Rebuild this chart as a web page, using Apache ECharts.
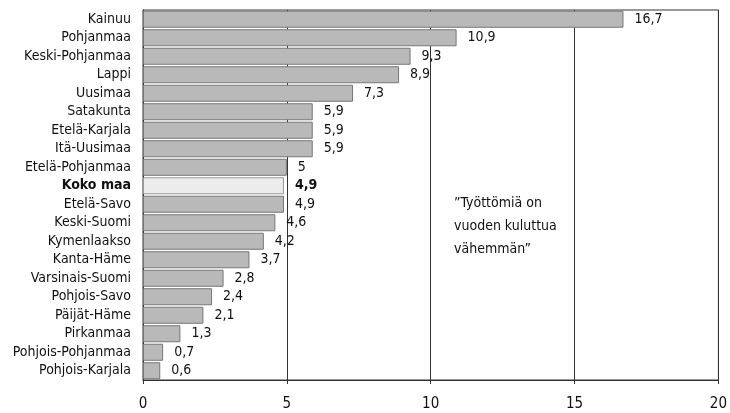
<!DOCTYPE html>
<html>
<head>
<meta charset="utf-8">
<script src="https://cdn.jsdelivr.net/npm/echarts@6/dist/echarts.min.js"></script>
<style>
  html, body { margin: 0; padding: 0; background: #fff; }
  #chart { width: 730px; height: 413px; }
</style>
</head>
<body>
<div id="chart"></div>
<script>
const regions = ['Kainuu', 'Pohjanmaa', 'Keski-Pohjanmaa', 'Lappi', 'Uusimaa', 'Satakunta',
  'Etelä-Karjala', 'Itä-Uusimaa', 'Etelä-Pohjanmaa', 'Koko maa', 'Etelä-Savo', 'Keski-Suomi',
  'Kymenlaakso', 'Kanta-Häme', 'Varsinais-Suomi', 'Pohjois-Savo', 'Päijät-Häme', 'Pirkanmaa',
  'Pohjois-Pohjanmaa', 'Pohjois-Karjala'];
const values = [16.7, 10.9, 9.3, 8.9, 7.3, 5.9, 5.9, 5.9, 5, 4.9, 4.9, 4.6, 4.2, 3.7, 2.8, 2.4, 2.1, 1.3, 0.7, 0.6];
const highlight = 'Koko maa';
const note = '”Työttömiä on\nvuoden kuluttua\nvähemmän”';

const font = "'DejaVu Sans Condensed', 'Open Sans', sans-serif";
const chart = echarts.init(document.getElementById('chart'));

chart.setOption({
  animation: false,
  textStyle: { fontFamily: font },
  grid: { left: 143, right: 8, top: 10, bottom: 33, show: true, borderColor: '#333', borderWidth: 1 },
  xAxis: {
    type: 'value', min: 0, max: 20, interval: 5,
    axisLine: { show: true, lineStyle: { color: '#333' } },
    axisTick: { show: true, length: 4, lineStyle: { color: '#333' } },
    axisLabel: { color: '#111', fontSize: 15, fontFamily: font, margin: 17 },
    splitLine: { show: true, lineStyle: { color: '#333', width: 1 } }
  },
  yAxis: {
    type: 'category', inverse: true, data: regions,
    axisLine: { show: true, lineStyle: { color: '#333' } },
    axisTick: { show: false },
    axisLabel: {
      color: '#111', fontSize: 14, fontFamily: font, margin: 12,
      formatter: v => v === highlight ? '{b|' + v + '}' : v,
      rich: { b: { fontWeight: 'bold', fontSize: 14, fontFamily: font, color: '#111' } }
    }
  },
  series: [{
    type: 'bar',
    barCategoryGap: '8%',
    data: values.map((v, i) => ({
      value: v,
      itemStyle: regions[i] === highlight ? { color: '#ececec', borderColor: '#999' } : {},
      label: regions[i] === highlight ? { fontWeight: 'bold' } : {}
    })),
    itemStyle: { color: '#b9b9b9', borderColor: '#777', borderWidth: 1 },
    label: {
      show: true, position: 'right', distance: 11,
      color: '#111', fontSize: 14, fontFamily: font,
      formatter: p => String(p.value).replace('.', ',')
    }
  }],
  graphic: [{
    type: 'text', left: 454, top: 192,
    style: { text: note, fontSize: 14, fontFamily: font, fill: '#111', lineHeight: 23 }
  }]
});
</script>
</body>
</html>
